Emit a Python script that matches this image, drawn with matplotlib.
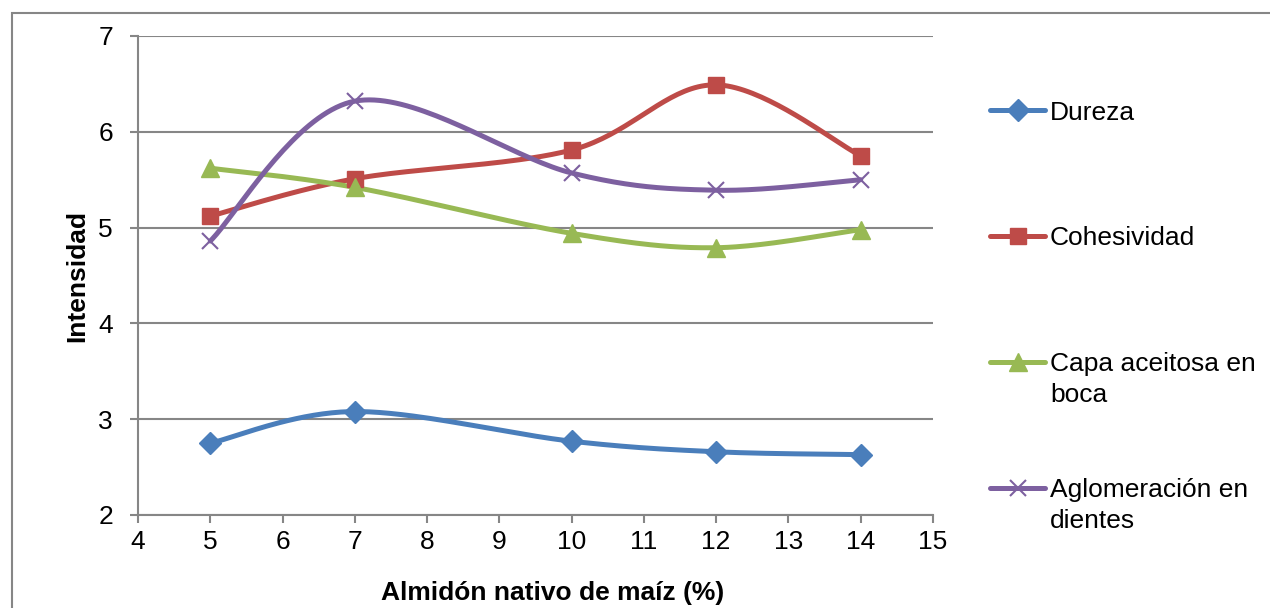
import numpy as np
import matplotlib.pyplot as plt
from matplotlib.lines import Line2D
from matplotlib.patches import Rectangle

plt.rcParams['font.family'] = ['Liberation Sans', 'DejaVu Sans']

almidon = [5, 7, 10, 12, 14]
dureza = [2.75, 3.08, 2.77, 2.66, 2.63]
cohesividad = [5.12, 5.51, 5.81, 6.49, 5.75]
capa_aceitosa = [5.62, 5.42, 4.94, 4.79, 4.98]
aglomeracion = [4.86, 6.32, 5.57, 5.39, 5.50]

series = [
    ("Dureza", dureza, "#4A7EBB", "D", 11),
    ("Cohesividad", cohesividad, "#BE4B48", "s", 12),
    ("Capa aceitosa en\nboca", capa_aceitosa, "#98B954", "^", 13),
    ("Aglomeración en\ndientes", aglomeracion, "#7D60A0", "x", 12),
]

FS = 19


def smooth(x, y, n=40):
    # catmull-rom style bezier, like spreadsheet "smoothed line"
    x = np.asarray(x, float)
    y = np.asarray(y, float)
    px = np.concatenate([[x[0]], x, [x[-1]]])
    py = np.concatenate([[y[0]], y, [y[-1]]])
    t = np.linspace(0, 1, n)
    xs, ys = [], []
    for i in range(1, len(px) - 2):
        p0 = np.array([px[i], py[i]])
        p3 = np.array([px[i + 1], py[i + 1]])
        c1 = p0 + (p3 - np.array([px[i - 1], py[i - 1]])) / 6
        c2 = p3 - (np.array([px[i + 2], py[i + 2]]) - p0) / 6
        b = ((1 - t) ** 3)[:, None] * p0 + (3 * (1 - t) ** 2 * t)[:, None] * c1 \
            + (3 * (1 - t) * t ** 2)[:, None] * c2 + (t ** 3)[:, None] * p3
        xs.append(b[:, 0])
        ys.append(b[:, 1])
    return np.concatenate(xs), np.concatenate(ys)


fig = plt.figure(figsize=(12.7, 6.08), dpi=100)
fig.add_artist(Rectangle((12 / 1270, -0.1), 1.2, 1 - 13 / 608 + 0.1,
                         transform=fig.transFigure, fill=False,
                         edgecolor="#868686", linewidth=1.5))

ax = fig.add_axes([138 / 1270, 1 - 515 / 608, (933 - 138) / 1270, (515 - 36) / 608])

for label, vals, color, marker, ms in series:
    sx, sy = smooth(almidon, vals)
    ax.plot(sx, sy, color=color, linewidth=3.6, solid_capstyle="round", zorder=3)
    if marker == "x":
        ax.plot(almidon, vals, linestyle="none", marker="x", markersize=ms,
                markeredgecolor=color, markeredgewidth=1.5, zorder=4)
    else:
        ax.plot(almidon, vals, linestyle="none", marker=marker, markersize=ms,
                color=color, markeredgecolor=color, zorder=4)

ax.set_xlim(4, 15)
ax.set_ylim(2, 7)
ax.set_xticks(range(4, 16))
ax.set_yticks(range(2, 8))
ax.grid(axis="y", color="#868686", linewidth=1.5)
ax.set_axisbelow(True)
for side in ("top", "right"):
    ax.spines[side].set_visible(False)
for side in ("left", "bottom"):
    ax.spines[side].set_color("#868686")
    ax.spines[side].set_linewidth(1.5)
ax.tick_params(axis="both", direction="out", length=6, width=1.5,
               color="#868686", labelsize=FS)
ax.tick_params(axis="y", pad=12)
ax.tick_params(axis="x", pad=5)

ax.set_xlabel("Almidón nativo de maíz (%)", fontsize=FS, fontweight="bold", va="center")
ax.xaxis.set_label_coords(0.522, -0.163)
ax.set_ylabel("Intensidad", fontsize=FS, fontweight="bold", va="center")
ax.yaxis.set_label_coords(-0.077, 0.5)

# legend drawn by hand to the right of the plot
legend_rows = [110, 236, 362, 488]
for (label, vals, color, marker, ms), row in zip(series, legend_rows):
    yf = 1 - row / 608
    fig.add_artist(Line2D([990 / 1270, 1045 / 1270], [yf, yf], transform=fig.transFigure,
                          color=color, linewidth=3.6, solid_capstyle="round"))
    if marker == "x":
        fig.add_artist(Line2D([1018 / 1270], [yf], transform=fig.transFigure, marker="x",
                              markersize=ms, markeredgecolor=color, markeredgewidth=1.5))
    else:
        fig.add_artist(Line2D([1018 / 1270], [yf], transform=fig.transFigure, marker=marker,
                              markersize=ms, color=color, markeredgecolor=color))
    for k, line in enumerate(label.split("\n")):
        fig.text(1050 / 1270, 1 - (row + 9.5 + 30 * k) / 608, line, fontsize=FS,
                 va="baseline", ha="left")

fig.savefig("out.png", dpi=100)
